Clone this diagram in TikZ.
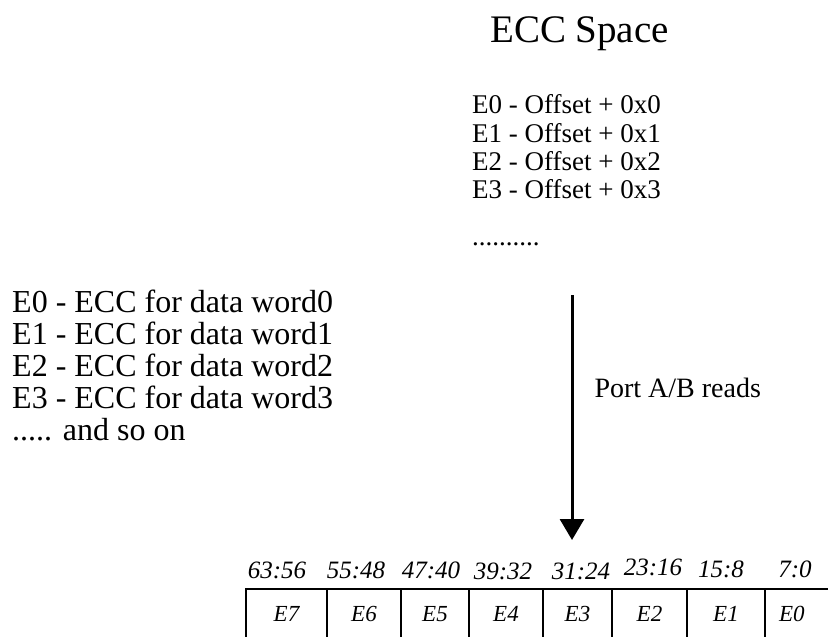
\documentclass[tikz,border=0pt]{standalone}
\usepackage{fontspec}
\setmainfont{Liberation Serif}
\usetikzlibrary{arrows.meta,positioning}

\begin{document}
\begin{tikzpicture}[
  x=1pt, y=-1pt,
  note/.style={inner sep=0pt, align=left, anchor=north west},
  cell/.style={draw, line width=1.6pt, minimum height=60pt, text depth=10pt, inner sep=0pt, outer sep=0pt, font=\fontsize{23}{25}\selectfont\itshape},
  bits/.style={anchor=base, inner sep=0pt, font=\fontsize{25}{27}\selectfont\itshape}
]
\useasboundingbox (0,0) rectangle (828,637);
\clip (0,0) rectangle (828,637);

\node[anchor=base west, inner sep=0pt, font=\fontsize{39}{41}\selectfont] (title) at (490,42) {ECC Space};
\node[note, font=\fontsize{27}{28.3}\selectfont] (offsets) at (472,94.5)
  {E0 - Offset + 0x0\\E1 - Offset + 0x1\\E2 - Offset + 0x2\\E3 - Offset + 0x3\\[19pt]..........};
\node[note, font=\fontsize{32}{32}\selectfont] (legend) at (12,290)
  {E0 - ECC for data word0\\E1 - ECC for data word1\\E2 - ECC for data word2\\E3 - ECC for data word3\\..... and so on};

% read path into the word
\coordinate (rdtop) at (572,295);
\coordinate (rdtip) at (572,540);
\draw[line width=3pt, -{Triangle[length=21pt, width=24pt]}] (rdtop) -- node[pos=0.38, right=21pt, inner sep=0pt, font=\fontsize{28}{30}\selectfont] (port) {Port A/B reads} (rdtip);

% ECC word, one byte per cell
\node[cell, minimum width=81pt, anchor=north west] (e7) at (246,589) {E7};
\node[cell, minimum width=74pt, right=0pt of e7] (e6) {E6};
\node[cell, minimum width=68pt, right=0pt of e6] (e5) {E5};
\node[cell, minimum width=74pt, right=0pt of e5] (e4) {E4};
\node[cell, minimum width=69pt, right=0pt of e4] (e3) {E3};
\node[cell, minimum width=75pt, right=0pt of e3] (e2) {E2};
\node[cell, minimum width=78pt, right=0pt of e2] (e1) {E1};
\node[cell, text width=50pt, align=left, inner xsep=14pt, right=0pt of e1] (e0) {E0};

\node[bits] (b7) at (277,578) {63:56};
\node[bits] (b6) at (356,578) {55:48};
\node[bits] (b5) at (431,578) {47:40};
\node[bits] (b4) at (503,579) {39:32};
\node[bits] (b3) at (581,579) {31:24};
\node[bits] (b2) at (653,575) {23:16};
\node[bits] (b1) at (721,577) {15:8};
\node[bits] (b0) at (795,577) {7:0};
\end{tikzpicture}
\end{document}
